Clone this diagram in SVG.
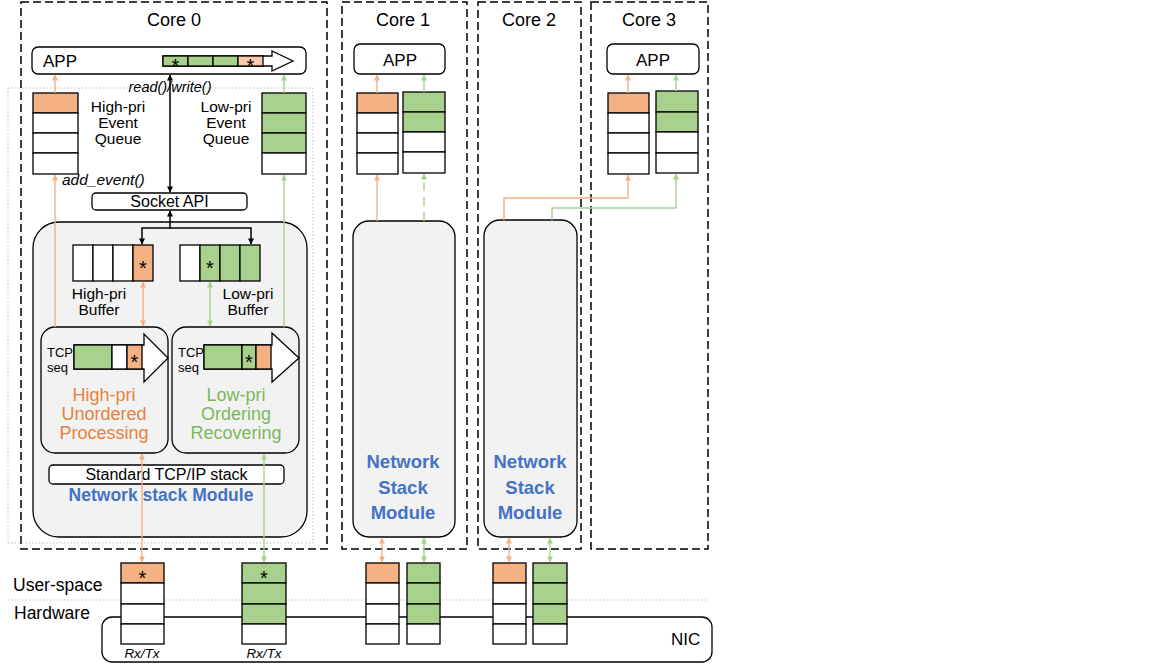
<svg xmlns="http://www.w3.org/2000/svg" width="1152" height="672" viewBox="0 0 1152 672">
<style>
text{font-family:"Liberation Sans",Arial,sans-serif;fill:#000}
.core{fill:none;stroke:#000;stroke-width:1.5;stroke-dasharray:8 4}
.dot{fill:none;stroke:#BFBFBF;stroke-width:1;stroke-dasharray:1.5 2}
.box{fill:#fff;stroke:#000;stroke-width:1.3}
.nsm{fill:#F2F2F2;stroke:#000;stroke-width:1.3}
.c{stroke:#000;stroke-width:1.3}
.o{fill:#F4B183}.g{fill:#A9D18E}.w{fill:#fff}.p{fill:#F8CBAD}
.ol{stroke:#F4B183;stroke-width:1.4;fill:none}
.gl{stroke:#A9D18E;stroke-width:1.4;fill:none}
.bl{stroke:#000;stroke-width:1.5;fill:none}
.star{font-size:20px;text-anchor:middle}
.mid{text-anchor:middle}
.blue{fill:#4472C4;font-weight:bold;text-anchor:middle}
.it{font-style:italic}
.ot{fill:#E8813A;text-anchor:middle;font-size:18px}
.gt{fill:#7CB85A;text-anchor:middle;font-size:18px}
.lbl{text-anchor:middle;font-size:15.5px}
</style>
<defs>
<marker id="ao" viewBox="0 0 10 10" refX="9" refY="5" markerWidth="7" markerHeight="6" markerUnits="userSpaceOnUse" orient="auto-start-reverse"><path d="M0,0 L10,5 L0,10 z" fill="#F4B183"/></marker>
<marker id="ag" viewBox="0 0 10 10" refX="9" refY="5" markerWidth="7" markerHeight="6" markerUnits="userSpaceOnUse" orient="auto-start-reverse"><path d="M0,0 L10,5 L0,10 z" fill="#A9D18E"/></marker>
<marker id="ab" viewBox="0 0 10 10" refX="9" refY="5" markerWidth="7" markerHeight="6" markerUnits="userSpaceOnUse" orient="auto-start-reverse"><path d="M0,0 L10,5 L0,10 z" fill="#000"/></marker>
</defs>
<rect width="1152" height="672" fill="#fff"/>

<!-- layer separators -->
<g id="layers">
<line class="dot" x1="8" y1="600" x2="708" y2="600"/>
<text x="13" y="591" font-size="17.5">User-space</text>
<text x="14" y="619" font-size="17.5">Hardware</text>
</g>

<!-- NIC -->
<g id="nic">
<rect class="box" x="102" y="617" width="610" height="45" rx="10"/>
<text x="671" y="645" font-size="17">NIC</text>
</g>

<!-- Core frames -->
<g id="core0">
<rect class="core" x="21" y="2" width="306" height="547"/>
<text class="mid" x="174" y="26" font-size="18">Core 0</text>
<rect class="dot" x="8" y="88" width="305" height="455"/>
</g>
<g id="core1">
<rect class="core" x="342" y="2" width="125" height="547"/>
<text class="mid" x="403" y="26" font-size="18">Core 1</text>
</g>
<g id="core2">
<rect class="core" x="478" y="2" width="103" height="547"/>
<text class="mid" x="529" y="26" font-size="18">Core 2</text>
</g>
<g id="core3">
<rect class="core" x="591" y="2" width="117" height="547"/>
<text class="mid" x="649" y="26" font-size="18">Core 3</text>
</g>

<!-- Core 0 APP -->
<g id="app0">
<rect class="box" x="32" y="47" width="274" height="27" rx="6"/>
<text x="43" y="67" font-size="17">APP</text>
<polygon class="c" fill="#fff" points="163,56 272,56 272,51 293,61 272,71 272,66 163,66"/>
<rect class="c g" x="163" y="56" width="25" height="10"/>
<rect class="c g" x="188" y="56" width="25" height="10"/>
<rect class="c g" x="213" y="56" width="25" height="10"/>
<rect class="c p" x="238" y="56" width="25" height="10"/>
<text class="star" x="175.5" y="72.5">*</text>
<text class="star" x="250.5" y="72.5">*</text>
</g>

<!-- Core 0 event queues -->
<g id="hp-event-queue">
<rect class="c o" x="33" y="93" width="45" height="20"/>
<rect class="c w" x="33" y="113" width="45" height="20"/>
<rect class="c w" x="33" y="133" width="45" height="20"/>
<rect class="c w" x="33" y="153" width="45" height="21"/>
<text class="lbl" x="118" y="112">High-pri</text>
<text class="lbl" x="118" y="128">Event</text>
<text class="lbl" x="118" y="144">Queue</text>
</g>
<g id="lp-event-queue">
<rect class="c g" x="262" y="93" width="44" height="20"/>
<rect class="c g" x="262" y="113" width="44" height="20"/>
<rect class="c g" x="262" y="133" width="44" height="20"/>
<rect class="c w" x="262" y="153" width="44" height="21"/>
<text class="lbl" x="226" y="112">Low-pri</text>
<text class="lbl" x="226" y="128">Event</text>
<text class="lbl" x="226" y="144">Queue</text>
</g>

<g id="socket-api">
<rect class="box" x="92" y="193" width="155" height="17" rx="4"/>
<text class="mid" x="169.5" y="207" font-size="16">Socket API</text>
</g>

<!-- Core 0 network stack module -->
<g id="nsm0">
<rect class="nsm" x="33" y="222" width="274" height="315" rx="26"/>
<text class="blue" x="161" y="501" font-size="17.5">Network stack Module</text>
</g>

<g id="hp-buffer">
<rect class="c w" x="73" y="245" width="20" height="36"/>
<rect class="c w" x="93" y="245" width="20" height="36"/>
<rect class="c w" x="113" y="245" width="20" height="36"/>
<rect class="c o" x="133" y="245" width="20" height="36"/>
<text class="star" x="143" y="274.5">*</text>
<text class="lbl" x="99" y="298.5">High-pri</text>
<text class="lbl" x="99" y="314.5">Buffer</text>
</g>
<g id="lp-buffer">
<rect class="c w" x="180" y="245" width="20" height="36"/>
<rect class="c g" x="200" y="245" width="20" height="36"/>
<rect class="c g" x="220" y="245" width="20" height="36"/>
<rect class="c g" x="240" y="245" width="20" height="36"/>
<text class="star" x="210" y="274.5">*</text>
<text class="lbl" x="248" y="298.5">Low-pri</text>
<text class="lbl" x="248" y="314.5">Buffer</text>
</g>

<g id="hp-processing">
<rect class="nsm" x="41" y="327" width="127" height="126" rx="14"/>
<text x="47" y="357" font-size="13">TCP</text>
<text x="47" y="372" font-size="13">seq</text>
<polygon class="c" fill="#fff" points="74,345 144,345 144,334 168,358 144,382 144,369 74,369"/>
<rect class="c g" x="74" y="345" width="38" height="24"/>
<rect class="c w" x="112" y="345" width="15" height="24"/>
<rect class="c o" x="127" y="345" width="15" height="24"/>
<text class="star" x="134.5" y="368.5">*</text>
<text class="ot" x="104" y="401">High-pri</text>
<text class="ot" x="104" y="420">Unordered</text>
<text class="ot" x="104" y="439">Processing</text>
</g>
<g id="lp-processing">
<rect class="nsm" x="172" y="327" width="127" height="126" rx="14"/>
<text x="178" y="357" font-size="13">TCP</text>
<text x="178" y="372" font-size="13">seq</text>
<polygon class="c" fill="#fff" points="204,345 272,345 272,333 299,358 272,382 272,369 204,369"/>
<rect class="c g" x="204" y="345" width="38" height="24"/>
<rect class="c g" x="242" y="345" width="14" height="24"/>
<rect class="c o" x="256" y="345" width="15" height="24"/>
<text class="star" x="249" y="368.5">*</text>
<text class="gt" x="236" y="401">Low-pri</text>
<text class="gt" x="236" y="420">Ordering</text>
<text class="gt" x="236" y="439">Recovering</text>
</g>

<g id="std-tcpip">
<rect class="box" x="49" y="465" width="235" height="19" rx="4"/>
<text class="mid" x="166.5" y="480" font-size="16">Standard TCP/IP stack</text>
</g>

<!-- Core 0 NIC queues -->
<g id="nicq0-hp">
<rect class="c o" x="121" y="563" width="43" height="20"/>
<rect class="c w" x="121" y="583" width="43" height="21"/>
<rect class="c w" x="121" y="604" width="43" height="20"/>
<rect class="c w" x="121" y="624" width="43" height="20"/>
<text class="star" x="142.5" y="584.5">*</text>
<text class="mid it" x="142" y="658" font-size="13.5">Rx/Tx</text>
</g>
<g id="nicq0-lp">
<rect class="c g" x="242" y="563" width="44" height="20"/>
<rect class="c g" x="242" y="583" width="44" height="21"/>
<rect class="c g" x="242" y="604" width="44" height="20"/>
<rect class="c w" x="242" y="624" width="44" height="20"/>
<text class="star" x="264" y="584.5">*</text>
<text class="mid it" x="264" y="658" font-size="13.5">Rx/Tx</text>
</g>

<!-- Core 1 -->
<g id="app1">
<rect class="box" x="354" y="44" width="91" height="30" rx="6"/>
<text class="mid" x="400" y="66" font-size="17">APP</text>
</g>
<g id="q1-hp">
<rect class="c o" x="357" y="93" width="41" height="20"/>
<rect class="c w" x="357" y="113" width="41" height="20"/>
<rect class="c w" x="357" y="133" width="41" height="20"/>
<rect class="c w" x="357" y="153" width="41" height="21"/>
</g>
<g id="q1-lp">
<rect class="c g" x="403" y="92" width="42" height="20"/>
<rect class="c g" x="403" y="112" width="42" height="20"/>
<rect class="c w" x="403" y="132" width="42" height="20"/>
<rect class="c w" x="403" y="152" width="42" height="21"/>
</g>
<g id="nsm1">
<rect class="nsm" x="353" y="221" width="102" height="316" rx="16"/>
<text class="blue" x="403" y="468" font-size="18.5">Network</text>
<text class="blue" x="403" y="494" font-size="18.5">Stack</text>
<text class="blue" x="403" y="519" font-size="18.5">Module</text>
</g>
<g id="nicq1-hp">
<rect class="c o" x="366" y="563" width="33" height="20"/>
<rect class="c w" x="366" y="583" width="33" height="21"/>
<rect class="c w" x="366" y="604" width="33" height="20"/>
<rect class="c w" x="366" y="624" width="33" height="20"/>
</g>
<g id="nicq1-lp">
<rect class="c g" x="407" y="563" width="33" height="20"/>
<rect class="c g" x="407" y="583" width="33" height="21"/>
<rect class="c g" x="407" y="604" width="33" height="20"/>
<rect class="c w" x="407" y="624" width="33" height="20"/>
</g>

<!-- Core 2 -->
<g id="nsm2">
<rect class="nsm" x="484" y="220" width="93" height="317" rx="16"/>
<text class="blue" x="530" y="468" font-size="18.5">Network</text>
<text class="blue" x="530" y="494" font-size="18.5">Stack</text>
<text class="blue" x="530" y="519" font-size="18.5">Module</text>
</g>
<g id="nicq2-hp">
<rect class="c o" x="493" y="563" width="33" height="20"/>
<rect class="c w" x="493" y="583" width="33" height="21"/>
<rect class="c w" x="493" y="604" width="33" height="20"/>
<rect class="c w" x="493" y="624" width="33" height="20"/>
</g>
<g id="nicq2-lp">
<rect class="c g" x="533" y="563" width="34" height="20"/>
<rect class="c g" x="533" y="583" width="34" height="21"/>
<rect class="c g" x="533" y="604" width="34" height="20"/>
<rect class="c w" x="533" y="624" width="34" height="20"/>
</g>

<!-- Core 3 -->
<g id="app3">
<rect class="box" x="607" y="44" width="92" height="30" rx="6"/>
<text class="mid" x="653" y="66" font-size="17">APP</text>
</g>
<g id="q3-hp">
<rect class="c o" x="608" y="93" width="41" height="20"/>
<rect class="c w" x="608" y="113" width="41" height="20"/>
<rect class="c w" x="608" y="133" width="41" height="20"/>
<rect class="c w" x="608" y="153" width="41" height="21"/>
</g>
<g id="q3-lp">
<rect class="c g" x="656" y="91" width="42" height="21"/>
<rect class="c g" x="656" y="112" width="42" height="20"/>
<rect class="c w" x="656" y="132" width="42" height="21"/>
<rect class="c w" x="656" y="153" width="42" height="20"/>
</g>

<!-- Connectors -->
<g id="connectors">
<line class="ol" x1="55" y1="93" x2="55" y2="75" marker-end="url(#ao)"/>
<line class="gl" x1="284" y1="93" x2="284" y2="75" marker-end="url(#ag)"/>
<line class="ol" x1="55" y1="327" x2="55" y2="175" marker-end="url(#ao)"/>
<line class="gl" x1="284" y1="327" x2="284" y2="175" marker-end="url(#ag)"/>
<line class="bl" x1="170" y1="192" x2="170" y2="75" marker-start="url(#ab)" marker-end="url(#ab)"/>
<line class="bl" x1="170" y1="229" x2="170" y2="211" marker-end="url(#ab)"/>
<path class="bl" d="M170,228 H142 V244" marker-end="url(#ab)"/>
<path class="bl" d="M170,228 H251 V244" marker-end="url(#ab)"/>
<line class="ol" x1="143" y1="282" x2="143" y2="326" marker-start="url(#ao)" marker-end="url(#ao)"/>
<line class="gl" x1="210" y1="282" x2="210" y2="326" marker-start="url(#ag)" marker-end="url(#ag)"/>
<line class="ol" x1="142" y1="454" x2="142" y2="562" marker-start="url(#ao)" marker-end="url(#ao)"/>
<line class="gl" x1="264" y1="454" x2="264" y2="562" marker-start="url(#ag)" marker-end="url(#ag)"/>
<line class="ol" x1="377" y1="93" x2="377" y2="75" marker-end="url(#ao)"/>
<line class="gl" x1="424" y1="92" x2="424" y2="75" marker-end="url(#ag)"/>
<line class="ol" x1="377" y1="221" x2="377" y2="175" marker-end="url(#ao)"/>
<line class="gl" x1="424" y1="221" x2="424" y2="174" stroke-dasharray="9 6" marker-end="url(#ag)"/>
<line class="ol" x1="382" y1="538" x2="382" y2="562" marker-start="url(#ao)" marker-end="url(#ao)"/>
<line class="gl" x1="424" y1="538" x2="424" y2="562" marker-start="url(#ag)" marker-end="url(#ag)"/>
<line class="ol" x1="509" y1="538" x2="509" y2="562" marker-start="url(#ao)" marker-end="url(#ao)"/>
<line class="gl" x1="550" y1="538" x2="550" y2="562" marker-start="url(#ag)" marker-end="url(#ag)"/>
<path class="ol" d="M504,220 V198 H628 V175" marker-end="url(#ao)"/>
<path class="gl" d="M552,220 V208 H676 V174" marker-end="url(#ag)"/>
<line class="ol" x1="628" y1="93" x2="628" y2="75" marker-end="url(#ao)"/>
<line class="gl" x1="676" y1="91" x2="676" y2="75" marker-end="url(#ag)"/>
</g>

<g id="call-labels">
<text class="it" x="170" y="92" font-size="14.5" text-anchor="middle">read()/write()</text>
<text class="it" x="62" y="185" font-size="15.5">add_event()</text>
</g>
</svg>
